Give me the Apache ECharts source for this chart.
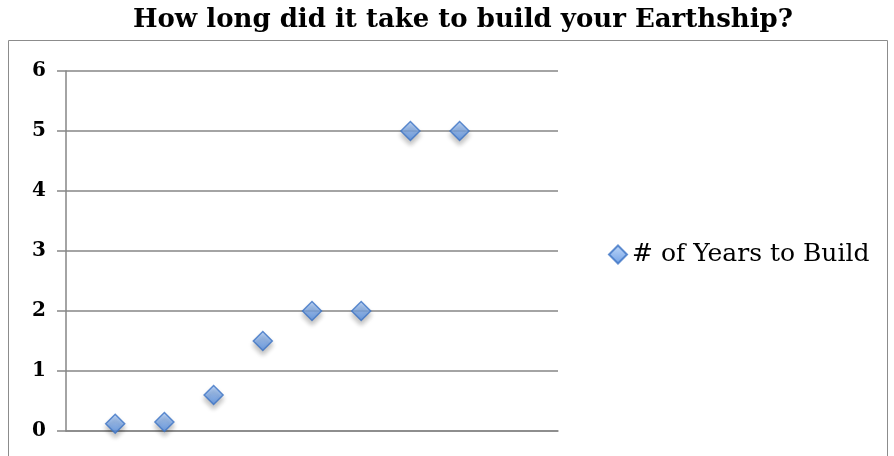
<!DOCTYPE html>
<html>
<head>
<meta charset="utf-8">
<script src="https://cdn.jsdelivr.net/npm/echarts@6/dist/echarts.min.js"></script>
<style>
    html, body { margin: 0; padding: 0; background: #fff; }
    #chart { width: 894px; height: 456px; }
</style>
</head>
<body>
<div id="chart"></div>
<script>
    const titleText = 'How long did it take to build your Earthship?'
    const seriesName = '# of Years to Build'
    const xValues = [1, 2, 3, 4, 5, 6, 7, 8]
    const yearsToBuild = [0.12, 0.15, 0.6, 1.5, 2, 2, 5, 5]
    const yTicks = [0, 1, 2, 3, 4, 5, 6]

    const points = xValues.map((x, i) => [x, yearsToBuild[i]])
    const serif = '"DejaVu Serif", "Liberation Serif", serif'

    const chart = echarts.init(document.getElementById('chart'))
    chart.setOption({
        animation: false,
        title: {
            text: titleText,
            left: 458,
            textAlign: 'center',
            top: 2,
            textStyle: {
                fontFamily: serif,
                fontWeight: 'bold',
                fontSize: 26,
                color: '#000'
            }
        },
        graphic: [{
            type: 'rect',
            shape: { x: 8.5, y: 40.5, width: 879, height: 430 },
            style: { fill: 'none', stroke: '#8c8c8c', lineWidth: 1 },
            z: -1
        }],
        legend: {
            left: 603,
            top: 237,
            itemWidth: 18,
            itemHeight: 18,
            itemGap: 6,
            icon: 'diamond',
            textStyle: {
                fontFamily: serif,
                fontSize: 25,
                color: '#000'
            },
            data: [seriesName]
        },
        grid: {
            left: 66,
            right: 336,
            top: 71,
            bottom: 25
        },
        xAxis: {
            type: 'value',
            min: 0,
            max: 10,
            axisLabel: { show: false },
            axisTick: { show: false },
            splitLine: { show: false },
            axisLine: { show: true, lineStyle: { color: '#868686', width: 1.5 } }
        },
        yAxis: {
            type: 'value',
            min: 0,
            max: 6,
            interval: 1,
            axisLine: { show: true, lineStyle: { color: '#868686', width: 1.5 } },
            axisTick: { show: true, length: 9, lineStyle: { color: '#868686', width: 1.5 } },
            splitLine: { show: true, lineStyle: { color: '#868686', width: 1.5 } },
            axisLabel: {
                margin: 20,
                fontFamily: serif,
                fontWeight: 'bold',
                fontSize: 20,
                color: '#000',
                formatter: v => yTicks.includes(v) ? String(v) : ''
            }
        },
        series: [{
            name: seriesName,
            type: 'scatter',
            symbol: 'diamond',
            symbolSize: 19,
            data: points,
            itemStyle: {
                color: new echarts.graphic.LinearGradient(0, 0, 0, 1, [
                    { offset: 0, color: '#b0cef7' },
                    { offset: 1, color: '#4f8ae0' }
                ]),
                borderColor: '#3c73c4',
                borderWidth: 1.5,
                shadowBlur: 5,
                shadowOffsetY: 4,
                shadowColor: 'rgba(0,0,0,0.3)'
            }
        }]
    })
</script>
</body>
</html>
